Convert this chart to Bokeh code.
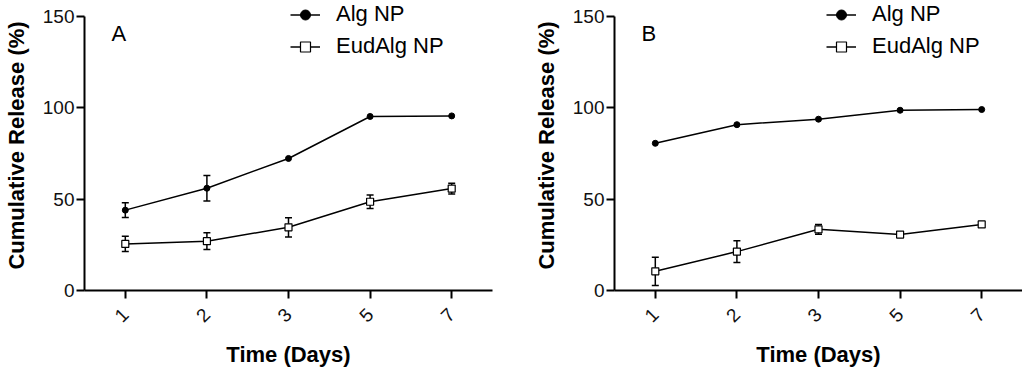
import math
from bokeh.plotting import figure
from bokeh.models import (FactorRange, Range1d, FixedTicker, ColumnDataSource,
                          Whisker, TeeHead, Legend, LegendItem, Label)
from bokeh.layouts import row
from bokeh.embed import file_html
from bokeh.resources import INLINE

days = ["1", "2", "3", "5", "7"]
y_ticks = [0, 50, 100, 150]

alg_a = [44.0, 56.0, 72.3, 95.3, 95.6]
alg_a_err = [4.0, 7.0, 0.0, 0.0, 0.0]
eud_a = [25.5, 27.0, 34.6, 48.6, 55.8]
eud_a_err = [4.2, 4.6, 5.3, 3.7, 2.9]

alg_b = [80.6, 90.8, 93.8, 98.7, 99.1]
alg_b_err = [0.0, 0.0, 0.0, 0.0, 0.0]
eud_b = [10.5, 21.3, 33.5, 30.6, 36.2]
eud_b_err = [7.7, 6.0, 2.7, 1.5, 0.0]

FONT = "Liberation Sans"
# frame spans the full top area (legend sits above the 150 line);
# the y axis line itself is bounded to 0..150
Y_END = 158.8


def err_source(vals, errs):
    xs, up, lo = [], [], []
    for d, v, e in zip(days, vals, errs):
        if e > 0.5:
            xs.append(d)
            up.append(v + e)
            lo.append(v - e)
    return ColumnDataSource(dict(x=xs, upper=up, lower=lo))


def make_panel(letter, alg, alg_err, eud, eud_err, width, border_right, legend_x):
    p = figure(x_range=FactorRange(*days), y_range=Range1d(0, Y_END),
               width=width, height=372, output_backend="svg",
               toolbar_location=None, min_border_left=81,
               min_border_right=border_right, min_border_top=0,
               min_border_bottom=82)
    p.x_range.range_padding = 0
    p.outline_line_color = None
    p.grid.visible = False
    p.background_fill_color = "white"
    p.border_fill_color = "white"

    for ax in (p.xaxis[0], p.yaxis[0]):
        ax.axis_line_width = 2
        ax.axis_line_color = "black"
        ax.major_tick_line_width = 2
        ax.major_tick_line_color = "black"
        ax.major_tick_out = 8
        ax.major_tick_in = 0
        ax.minor_tick_line_color = None
        ax.major_label_text_font = FONT
        ax.major_label_text_font_size = "19px"
        ax.major_label_text_color = "#111111"
        ax.axis_label_text_font = FONT
        ax.axis_label_text_font_size = "22px"
        ax.axis_label_text_font_style = "bold"
        ax.axis_label_text_color = "black"

    p.yaxis.ticker = FixedTicker(ticks=y_ticks)
    p.yaxis.bounds = (y_ticks[0], y_ticks[-1])
    p.yaxis.major_label_standoff = 2
    p.yaxis.axis_label = "Cumulative Release (%)"
    p.yaxis.axis_label_standoff = 11

    p.xaxis.major_label_orientation = math.pi / 4
    p.xaxis.major_label_standoff = 13
    p.xaxis.axis_label = "Time (Days)"
    p.xaxis.axis_label_standoff = 11

    for vals, errs in ((alg, alg_err), (eud, eud_err)):
        src = err_source(vals, errs)
        w = Whisker(base="x", upper="upper", lower="lower", source=src,
                    dimension="height", line_color="black", line_width=1.5,
                    upper_head=TeeHead(size=7, line_color="black", line_width=1.5),
                    lower_head=TeeHead(size=7, line_color="black", line_width=1.5))
        p.add_layout(w)

    src_alg = ColumnDataSource(dict(x=days, y=alg))
    src_eud = ColumnDataSource(dict(x=days, y=eud))
    l1 = p.line("x", "y", source=src_alg, line_color="black", line_width=1.5)
    m1 = p.scatter("x", "y", source=src_alg, marker="circle", size=6,
                   fill_color="black", line_color="black")
    l2 = p.line("x", "y", source=src_eud, line_color="black", line_width=1.5)
    m2 = p.scatter("x", "y", source=src_eud, marker="square", size=7,
                   fill_color="white", line_color="black", line_width=1.2)

    legend = Legend(items=[LegendItem(label="Alg NP", renderers=[l1, m1]),
                           LegendItem(label="EudAlg NP", renderers=[l2, m2])],
                    location=(legend_x, 231), padding=0, margin=0, spacing=6,
                    glyph_width=30, glyph_height=25, label_height=25,
                    label_standoff=16, label_text_font=FONT,
                    label_text_font_size="22px", label_text_color="black",
                    border_line_color=None, background_fill_alpha=0)
    p.add_layout(legend, "center")

    p.add_layout(Label(x=0.33, y=141, text=letter, text_font=FONT,
                       text_font_size="22px", text_baseline="middle",
                       text_align="left", text_color="black"))
    return p


pa = make_panel("A", alg_a, alg_a_err, eud_a, eud_a_err, 530, 38, 206)
pb = make_panel("B", alg_b, alg_b_err, eud_b, eud_b_err, 492, 0, 212)
layout = row(pa, pb, spacing=0)

open("out.html", "w").write(file_html(layout, INLINE))
